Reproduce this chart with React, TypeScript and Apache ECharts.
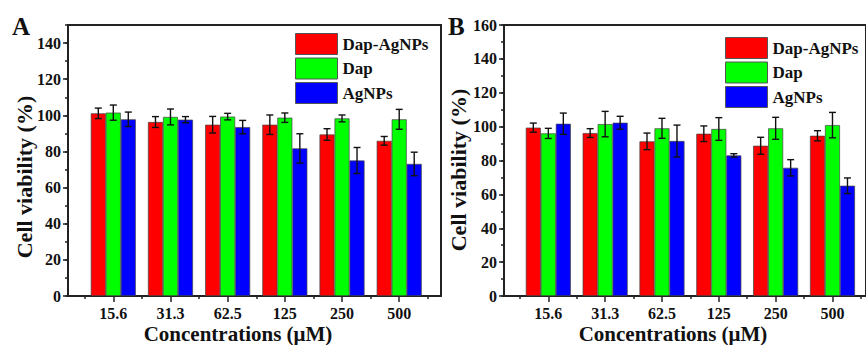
import React, { useEffect, useRef } from "react";
import * as echarts from "echarts";

const categories = ["15.6", "31.3", "62.5", "125", "250", "500"];
const seriesNames = ["Dap-AgNPs", "Dap", "AgNPs"];
const seriesColors = ["#ff0000", "#00ff00", "#0000ff"];

// Panel A
const aDapAgNPs = [101.1, 96.3, 94.8, 94.8, 89.4, 85.9];
const aDapAgNPsErr = [2.9, 3.0, 4.6, 5.4, 3.2, 2.4];
const aDap = [101.5, 99.1, 99.3, 98.7, 98.3, 97.8];
const aDapErr = [4.2, 4.4, 1.8, 2.6, 1.9, 5.5];
const aAgNPs = [97.8, 97.6, 93.5, 81.7, 75.0, 73.1];
const aAgNPsErr = [4.0, 1.7, 3.7, 8.1, 7.2, 6.5];

// Panel B
const bDapAgNPs = [99.4, 96.2, 91.3, 95.8, 88.7, 94.6];
const bDapAgNPsErr = [2.7, 2.6, 4.9, 4.6, 5.0, 3.0];
const bDap = [96.0, 101.5, 99.0, 98.6, 99.0, 100.9];
const bDapErr = [3.0, 7.5, 5.9, 6.7, 6.5, 7.5];
const bAgNPs = [101.7, 102.3, 91.5, 83.0, 75.7, 65.1];
const bAgNPsErr = [6.3, 3.8, 9.4, 1.0, 4.8, 4.6];

const yMaxA = 150;
const yMaxB = 160;

const FONT = "'Liberation Serif', 'Times New Roman', serif";
const BAR_W = 15;

export default function App() {
  const ref = useRef<HTMLDivElement>(null);

  useEffect(() => {
    if (!ref.current) return;
    const chart = echarts.init(ref.current, undefined, { renderer: "svg" });

    const panels = [
      {
        vals: [aDapAgNPs, aDap, aAgNPs],
        errs: [aDapAgNPsErr, aDapErr, aAgNPsErr],
        max: yMaxA,
        frame: { left: 68, top: 25, width: 373, height: 271 },
        bars: { left: 84.7, top: 25, width: 343.1, height: 271 },
        legend: { left: 295, top: 33 },
      },
      {
        vals: [bDapAgNPs, bDap, bAgNPs],
        errs: [bDapAgNPsErr, bDapErr, bAgNPsErr],
        max: yMaxB,
        frame: { left: 504, top: 25, width: 373, height: 271 },
        bars: { left: 519.9, top: 25, width: 341, height: 271 },
        legend: { left: 725, top: 37 },
      },
    ];

    const grid: any[] = [];
    const xAxis: any[] = [];
    const yAxis: any[] = [];
    const series: any[] = [];
    const legend: any[] = [];

    panels.forEach((p) => {
      const gFrame = grid.length;
      grid.push({
        ...p.frame,
        show: true,
        borderColor: "#222",
        borderWidth: 2,
        backgroundColor: "transparent",
      });
      const gBars = grid.length;
      grid.push({ ...p.bars });

      // frame axes
      xAxis.push({ gridIndex: gFrame, type: "value", min: 0, max: 1, show: false });
      yAxis.push({
        gridIndex: gFrame,
        type: "value",
        position: "left",
        min: 0,
        max: p.max,
        interval: 20,
        axisLine: { show: true, lineStyle: { color: "#222", width: 2 } },
        axisTick: { show: true, inside: false, length: 5, lineStyle: { color: "#222", width: 1.5 } },
        axisLabel: {
          show: true,
          showMaxLabel: p.max % 20 === 0,
          margin: 7,
          color: "#111",
          fontFamily: FONT,
          fontWeight: "bold",
          fontSize: 16,
        },
        splitLine: { show: false },
      });
      yAxis.push({
        gridIndex: gFrame,
        type: "value",
        position: "left",
        min: 0,
        max: p.max,
        interval: 10,
        axisLine: { show: false },
        axisTick: { show: true, inside: false, length: 3, lineStyle: { color: "#222", width: 1.5 } },
        axisLabel: { show: false },
        splitLine: { show: false },
      });

      // bar axes
      const xMain = xAxis.length;
      xAxis.push({
        gridIndex: gBars,
        type: "category",
        position: "bottom",
        data: categories,
        axisLine: { show: false },
        axisTick: { show: true, alignWithLabel: true, inside: false, length: 6, lineStyle: { color: "#222", width: 1.5 } },
        axisLabel: {
          margin: 9,
          color: "#111",
          fontFamily: FONT,
          fontWeight: "bold",
          fontSize: 16,
        },
        splitLine: { show: false },
      });
      xAxis.push({
        gridIndex: gBars,
        type: "category",
        position: "bottom",
        data: categories,
        axisLine: { show: false },
        axisTick: { show: true, inside: false, length: 3, lineStyle: { color: "#222", width: 1.5 } },
        axisLabel: { show: false },
        splitLine: { show: false },
      });
      const yBars = yAxis.length;
      yAxis.push({ gridIndex: gBars, type: "value", min: 0, max: p.max, show: false, splitLine: { show: false } });

      seriesNames.forEach((name, si) => {
        series.push({
          type: "bar",
          name,
          xAxisIndex: xMain,
          yAxisIndex: yBars,
          data: p.vals[si],
          barWidth: BAR_W,
          barGap: "0%",
          itemStyle: { color: seriesColors[si], borderColor: "#444", borderWidth: 0.7 },
        });
      });

      const errData: number[][] = [];
      for (let si = 0; si < 3; si++) {
        for (let i = 0; i < categories.length; i++) {
          errData.push([i, p.vals[si][i], p.errs[si][i], si]);
        }
      }
      series.push({
        type: "custom",
        xAxisIndex: xMain,
        yAxisIndex: yBars,
        data: errData,
        z: 5,
        clip: false,
        encode: { x: 0, y: 1 },
        renderItem: (params: any, api: any) => {
          const c = api.value(0);
          const v = api.value(1);
          const e = api.value(2);
          const s = api.value(3);
          const base = api.coord([c, v]);
          const x = base[0] + (s - 1) * BAR_W;
          const yt = api.coord([c, v + e])[1];
          const yb = api.coord([c, v - e])[1];
          const st = { stroke: "#111", lineWidth: 1.4 };
          const hw = 3.5;
          return {
            type: "group",
            children: [
              { type: "line", shape: { x1: x, y1: yt, x2: x, y2: yb }, style: st },
              { type: "line", shape: { x1: x - hw, y1: yt, x2: x + hw, y2: yt }, style: st },
              { type: "line", shape: { x1: x - hw, y1: yb, x2: x + hw, y2: yb }, style: st },
            ],
          };
        },
      });

      legend.push({
        data: seriesNames,
        orient: "vertical",
        left: p.legend.left,
        top: p.legend.top,
        padding: 0,
        itemWidth: 42,
        itemHeight: 21,
        itemGap: 2.5,
        icon: "rect",
        selectedMode: false,
        itemStyle: { borderColor: "#555", borderWidth: 1 },
        textStyle: { fontFamily: FONT, fontWeight: "bold", fontSize: 17, color: "#111" },
      });
    });

    const titleStyle = { fontFamily: FONT, fontWeight: "bold", fontSize: 21, fill: "#111" };

    const option: any = {
      animation: false,
      backgroundColor: "#ffffff",
      grid,
      xAxis,
      yAxis,
      legend,
      series,
      graphic: [
        { type: "text", left: 12, top: 14, style: { text: "A", fontFamily: FONT, fontWeight: "bold", fontSize: 25, fill: "#111" } },
        { type: "text", left: 448, top: 14, style: { text: "B", fontFamily: FONT, fontWeight: "bold", fontSize: 25, fill: "#111" } },
        {
          type: "text",
          x: 24,
          y: 177,
          rotation: Math.PI / 2,
          style: { ...titleStyle, fontSize: 22, text: "Cell viability (%)", align: "center", verticalAlign: "middle" },
        },
        {
          type: "text",
          x: 458,
          y: 170,
          rotation: Math.PI / 2,
          style: { ...titleStyle, fontSize: 22, text: "Cell viability (%)", align: "center", verticalAlign: "middle" },
        },
        {
          type: "text",
          x: 238,
          y: 333.5,
          style: { ...titleStyle, text: "Concentrations (μM)", align: "center", verticalAlign: "middle" },
        },
        {
          type: "text",
          x: 673,
          y: 333.5,
          style: { ...titleStyle, text: "Concentrations (μM)", align: "center", verticalAlign: "middle" },
        },
      ],
    };

    chart.setOption(option);
    return () => chart.dispose();
  }, []);

  return (
    <div
      ref={ref}
      style={{ position: "fixed", left: 0, top: 0, width: 866, height: 345, background: "#fff" }}
    />
  );
}
